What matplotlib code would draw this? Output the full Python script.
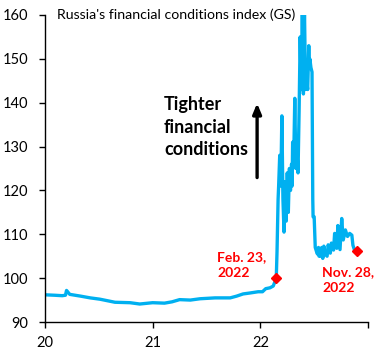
import matplotlib
matplotlib.use("Agg")
import matplotlib.pyplot as plt

# Decimal years since 2000 (e.g. 20.5 = mid-2020) and index values
dates = [20.00, 20.09, 20.16, 20.19, 20.20, 20.21, 20.23, 20.33, 20.42, 20.51,
         20.59, 20.65, 20.79, 20.88, 21.00, 21.11, 21.18, 21.25, 21.35, 21.44,
         21.58, 21.72, 21.78, 21.84, 21.90, 21.98, 22.02, 22.05, 22.09, 22.12,
         22.148,
         22.155, 22.165, 22.17, 22.18, 22.19, 22.20, 22.21, 22.22, 22.23, 22.24,
         22.25, 22.26, 22.27, 22.28, 22.29, 22.295, 22.30, 22.31, 22.32, 22.33,
         22.34, 22.35, 22.36, 22.37, 22.38, 22.39, 22.40, 22.41, 22.42, 22.43,
         22.44, 22.45, 22.455, 22.46, 22.47, 22.48, 22.487, 22.49, 22.50, 22.51,
         22.52, 22.53, 22.54, 22.545, 22.55, 22.56, 22.57, 22.58, 22.59, 22.60,
         22.62, 22.63, 22.65, 22.66, 22.68, 22.69, 22.71, 22.72, 22.74, 22.756,
         22.77, 22.79, 22.80, 22.81, 22.83, 22.85, 22.86, 22.88, 22.90]
values = [96.2, 96.1, 96.0, 96.1, 97.2, 96.9, 96.3, 95.9, 95.5, 95.2,
          94.8, 94.5, 94.4, 94.1, 94.4, 94.3, 94.6, 95.1, 95.0, 95.3,
          95.5, 95.5, 95.9, 96.4, 96.6, 96.9, 96.9, 97.6, 97.8, 98.2,
          100.0,
          106.0, 118.0, 121.0, 128.0, 121.0, 137.0, 118.0, 110.5, 122.0, 113.0,
          124.0, 115.0, 125.0, 120.0, 126.0, 121.0, 131.0, 127.0, 141.0, 125.0,
          129.0, 124.0, 138.0, 155.0, 143.0, 160.5, 142.0, 161.0, 143.0, 145.0,
          143.0, 153.0, 148.0, 150.0, 148.0, 147.0, 118.0, 114.0, 114.0, 107.0,
          106.2, 105.5, 107.0, 105.0, 106.5, 105.0, 107.0, 104.5, 107.3, 105.5,
          105.0, 107.6, 105.7, 108.0, 106.4, 110.2, 106.8, 112.0, 106.5, 113.6,
          108.7, 111.0, 110.2, 109.5, 110.2, 109.8, 107.5, 106.0, 106.2]

marker_dates = [22.148, 22.90]
marker_values = [100.0, 106.2]
marker_labels = ["Feb. 23,\n2022", "Nov. 28,\n2022"]

xticks = [20, 21, 22, 23]
xticklabels = ["20", "21", "22", ""]
yticks = [90, 100, 110, 120, 130, 140, 150, 160]

plt.rcParams['font.family'] = ['Lato', 'DejaVu Sans']

fig = plt.figure(figsize=(3.83, 3.59), dpi=100)
ax = fig.add_axes([45/383, 1-322/359, (368-45)/383, (322-15)/359])

ax.plot(dates, values, color='#00B0F0', lw=2.4, solid_joinstyle='round', zorder=2)
ax.plot(marker_dates, marker_values, ls='none', marker='D', ms=5,
        color='#FF0000', zorder=3)

ax.set_xlim(20, 23)
ax.set_ylim(90, 160)
ax.set_xticks(xticks)
ax.set_xticklabels(xticklabels)
ax.set_yticks(yticks)
ax.tick_params(direction='out', length=4, width=1, labelsize=10.5, colors='black')
ax.tick_params(axis='y', pad=8)
ax.tick_params(axis='x', pad=6)
for s in ['top', 'right']:
    ax.spines[s].set_visible(False)
for s in ['left', 'bottom']:
    ax.spines[s].set_linewidth(1)

fig.text(57/383, 1-8/359, "Russia's financial conditions index (GS)",
         fontsize=10.2, va='top', ha='left')

fig.text(164/383, 1-96/359, "Tighter\nfinancial\nconditions", fontsize=13,
         fontweight='bold', va='top', ha='left', linespacing=1.4)

ax.annotate('', xy=(21.97, 140.5), xytext=(21.97, 122.3),
            arrowprops=dict(arrowstyle='-|>,head_length=0.6,head_width=0.25',
                            color='black', lw=2.4))

fig.text(217/383, 1-251/359, marker_labels[0], fontsize=10, fontweight='bold',
         color='#FF0000', va='top', ha='left', linespacing=1.4)
fig.text(322/383, 1-266/359, marker_labels[1], fontsize=10, fontweight='bold',
         color='#FF0000', va='top', ha='left', linespacing=1.4)

fig.savefig('out.png', dpi=100)
